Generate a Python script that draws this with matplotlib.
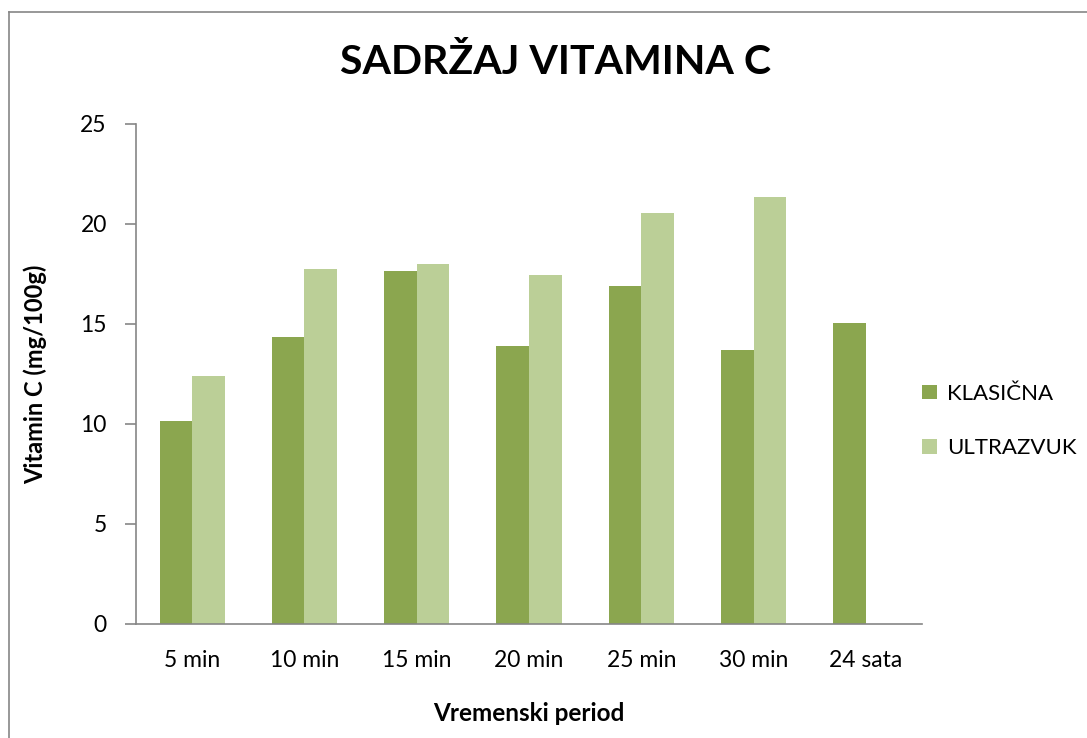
import matplotlib.pyplot as plt
import numpy as np

plt.rcParams['font.family'] = ['Lato', 'DejaVu Sans']

# data
categories = ['5 min', '10 min', '15 min', '20 min', '25 min', '30 min', '24 sata']
klasicna = [10.16, 14.34, 17.65, 13.92, 16.92, 13.72, 15.05]
ultrazvuk = [12.38, 17.73, 18.0, 17.47, 20.54, 21.36, np.nan]

c_k = '#8BA64F'
c_u = '#BBCF97'
grey = '#868686'

fig = plt.figure(figsize=(10.87, 7.38), dpi=100)
ax = fig.add_axes([136/1087, 1-624/738, (922-136)/1087, 500/738])

x = np.arange(len(categories))
w = 0.29
ax.bar(x - w/2, klasicna, w, color=c_k, label='KLASIČNA')
ax.bar(x + w/2, ultrazvuk, w, color=c_u, label='ULTRAZVUK')

ax.set_xlim(-0.5, len(categories) - 0.5)
ax.set_ylim(0, 25)
ax.set_yticks([0, 5, 10, 15, 20, 25])
ax.set_xticks(x)
ax.set_xticklabels(categories)
ax.tick_params(axis='x', length=0, pad=19, labelsize=16.5)
ax.tick_params(axis='y', length=8, color=grey, width=1.2, pad=13, labelsize=16.5)

for s in ['top', 'right']:
    ax.spines[s].set_visible(False)
for s in ['left', 'bottom']:
    ax.spines[s].set_color(grey)
    ax.spines[s].set_linewidth(1.2)

ax.set_xlabel('Vremenski period', fontsize=17.5, fontweight='bold', labelpad=22)
ax.set_ylabel('Vitamin C (mg/100g)', fontsize=17, fontweight='bold', labelpad=24)
fig.text(555/1087, 1-62/738, 'SADRŽAJ VITAMINA C', ha='center', va='center',
         fontsize=29.5, fontweight='bold')

ax.legend(loc='center left', bbox_to_anchor=(0.975, 0.406), frameon=False,
          fontsize=16, handlelength=0.65, handleheight=0.65,
          labelspacing=1.55, handletextpad=0.45)

# chart frame (only left and top visible in the crop)
fig.add_artist(plt.Line2D([9/1087, 9/1087], [0, 1-12/738], color=grey, lw=1.2))
fig.add_artist(plt.Line2D([9/1087, 1], [1-12/738, 1-12/738], color=grey, lw=1.2))

fig.savefig('out.png', dpi=100)
